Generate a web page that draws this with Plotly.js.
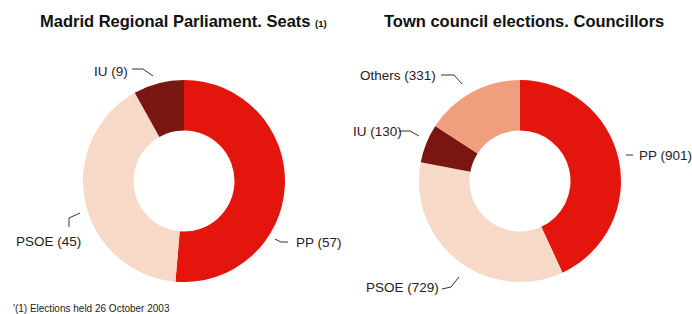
<!DOCTYPE html>
<html><head><meta charset="utf-8">
<script src="https://cdn.plot.ly/plotly-3.0.1.min.js"></script>
<style>html,body{margin:0;padding:0;background:#fff}#chart{width:692px;height:314px}</style>
</head><body><div id="chart"></div>
<script>
const W = 692, H = 314;
const parliamentParties = ['PP', 'PSOE', 'IU'];
const parliamentSeats = [57, 45, 9];
const councilParties = ['PP', 'PSOE', 'IU', 'Others'];
const councilSeats = [901, 729, 130, 331];
const partyColors = {PP: '#e3150d', PSOE: '#f6d9c7', IU: '#7a1612', Others: '#ef9f7e'};

const px = x => x / W, py = y => 1 - y / H;
const dom = (x0, x1, y0, y1) => ({x: [px(x0), px(x1)], y: [py(y1), py(y0)]});

const pie = (labels, values, domain) => ({
  type: 'pie', labels, values, domain, hole: 0.5, sort: false,
  direction: 'clockwise', rotation: 0, textinfo: 'none', hoverinfo: 'label+value',
  marker: {colors: labels.map(l => partyColors[l]), line: {width: 0}},
  showlegend: false
});

const data = [
  pie(parliamentParties, parliamentSeats, dom(83, 285, 80, 282)),
  pie(councilParties, councilSeats, dom(419, 621, 80, 282))
];

const font = 'Liberation Sans, Arial, Helvetica, sans-serif';
const lbl = (text, x, y, anchor) => ({
  text, x: px(x), y: py(y), xref: 'paper', yref: 'paper', showarrow: false,
  xanchor: anchor, yanchor: 'middle', font: {family: font, size: 13.5, color: '#222'}
});
const ann = [
  {text: '<b>Madrid Regional Parliament. Seats </b><b><span style="font-size:9.5px">(1)</span></b>',
   x: px(183), y: py(21), xref: 'paper', yref: 'paper', showarrow: false, xanchor: 'center', yanchor: 'middle',
   font: {family: font, size: 16.5, color: '#111'}},
  {text: '<b>Town council elections. Councillors</b>',
   x: px(524), y: py(21), xref: 'paper', yref: 'paper', showarrow: false, xanchor: 'center', yanchor: 'middle',
   font: {family: font, size: 16.5, color: '#111'}},
  {text: "'(1) Elections held 26 October 2003", x: px(11), y: py(308), xref: 'paper', yref: 'paper',
   showarrow: false, xanchor: 'left', yanchor: 'middle', font: {family: font, size: 10, color: '#222'}},
  lbl('IU (' + parliamentSeats[2] + ')', 92, 72, 'left'),
  lbl('PSOE (' + parliamentSeats[1] + ')', 14, 241, 'left'),
  lbl('PP (' + parliamentSeats[0] + ')', 294, 242, 'left'),
  lbl('Others (' + councilSeats[3] + ')', 358, 75, 'left'),
  lbl('IU (' + councilSeats[2] + ')', 351, 131, 'left'),
  lbl('PP (' + councilSeats[0] + ')', 637, 155, 'left'),
  lbl('PSOE (' + councilSeats[1] + ')', 364, 287, 'left')
];

const poly = pts => ({
  type: 'path', xref: 'paper', yref: 'paper',
  path: pts.map((p, i) => (i ? 'L' : 'M') + px(p[0]) + ',' + py(p[1])).join(' '),
  line: {color: '#333', width: 1}
});
const shapes = [
  poly([[132, 69], [143, 69], [153, 76]]),
  poly([[69, 227], [69, 218], [80, 213]]),
  poly([[275, 239], [281, 242], [288, 242]]),
  poly([[441, 75], [454, 75], [462, 84]]),
  poly([[399, 131], [410, 131], [419, 136]]),
  poly([[626, 155], [633, 155]]),
  poly([[442, 289], [451, 287], [459, 277]])
];

Plotly.newPlot('chart', data, {
  width: W, height: H, margin: {l: 0, r: 0, t: 0, b: 0},
  paper_bgcolor: '#fff', annotations: ann, shapes
}, {displayModeBar: false, staticPlot: true});
</script></body></html>
